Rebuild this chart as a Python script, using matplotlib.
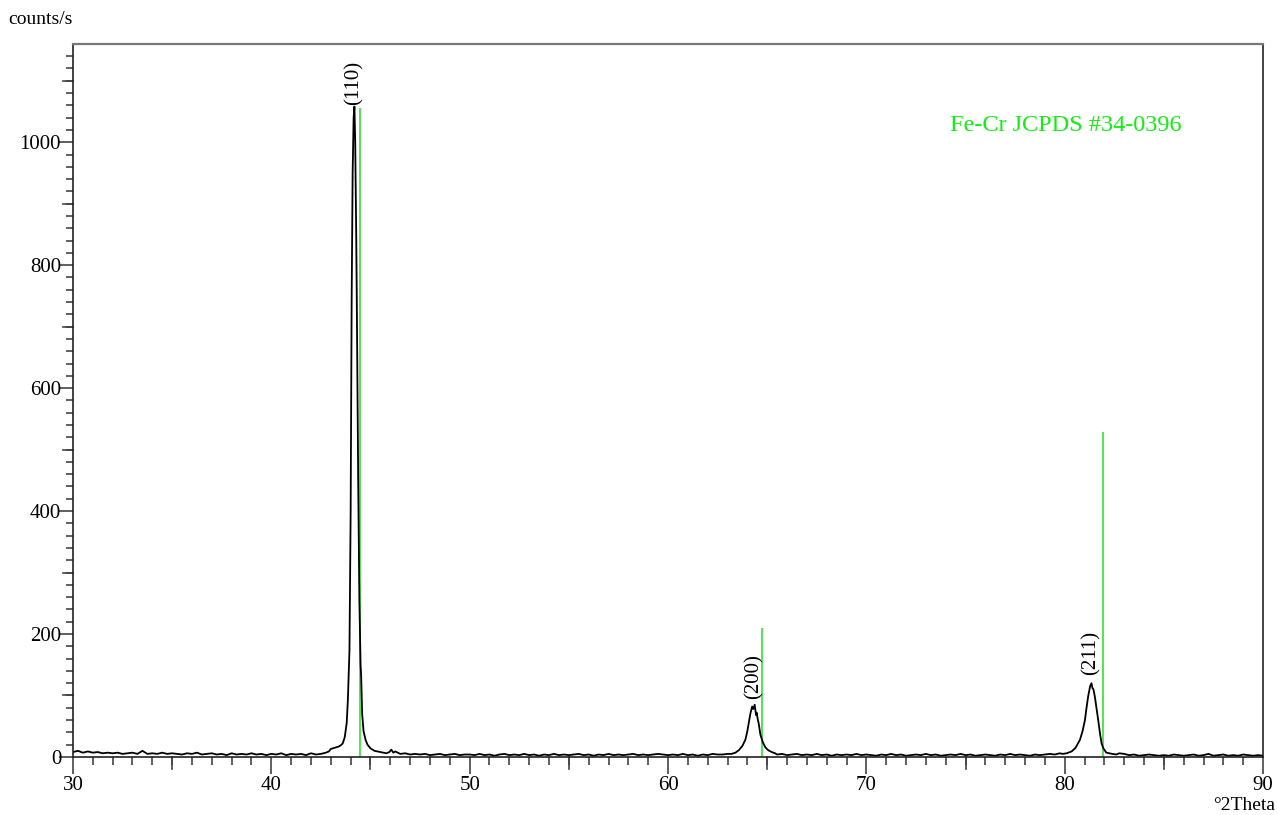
import numpy as np
import matplotlib.pyplot as plt
from matplotlib.ticker import MultipleLocator

# baseline counts, every 0.25 deg from 30 to 90 (peak windows get replaced below)
base_start, base_step = 30.0, 0.25
base_counts = [
    8, 10, 7, 9, 7, 8, 6, 7, 6, 7, 5, 6, 7, 5, 10, 5, 6, 5, 7, 5,
    6, 5, 4, 6, 5, 7, 4, 5, 6, 4, 5, 3, 6, 4, 5, 4, 6, 4, 5, 3,
    5, 4, 6, 3, 5, 4, 5, 3, 6, 4, 5, 7, 9, 12, 15, 18, 20, 20, 20, 20,
    12, 10, 8, 7, 6, 9, 5, 6, 4, 5, 4, 5, 3, 4, 5, 3, 4, 5, 3, 4,
    4, 3, 5, 3, 4, 2, 4, 5, 3, 4, 3, 5, 3, 4, 2, 4, 3, 5, 3, 4,
    3, 4, 5, 3, 4, 2, 4, 3, 5, 3, 4, 3, 4, 5, 3, 4, 3, 4, 5, 4,
    3, 4, 3, 5, 3, 4, 2, 4, 3, 5, 4, 4, 5, 6, 7, 8, 9, 9, 8, 7,
    6, 5, 4, 5, 3, 4, 5, 3, 4, 3, 5, 3, 4, 2, 4, 3, 4, 3, 5, 3,
    4, 3, 2, 4, 3, 5, 3, 4, 2, 3, 4, 3, 5, 3, 4, 2, 3, 4, 3, 5,
    3, 4, 2, 3, 4, 3, 2, 4, 3, 5, 3, 4, 3, 2, 4, 3, 4, 5, 4, 6,
    6, 5, 4, 5, 6, 7, 8, 9, 9, 8, 7, 6, 5, 3, 4, 2, 3, 4, 3, 2,
    3, 2, 4, 3, 2, 3, 4, 2, 3, 5, 2, 3, 4, 2, 3, 2, 4, 3, 2, 3,
    2,
]

# measured peak profiles
p110_x = [42.9, 43.0, 43.2, 43.4, 43.5, 43.6, 43.7, 43.8, 43.86, 43.94, 44.0, 44.05, 44.1,
          44.15, 44.19, 44.23, 44.28, 44.31, 44.38, 44.44, 44.5, 44.53, 44.58,
          44.65, 44.75, 44.85, 45.0, 45.1, 45.2, 45.35, 45.5, 45.65, 45.8, 45.95, 46.05, 46.15]
p110_y = [9, 13, 15, 17, 19, 22, 32, 55, 93, 174, 400, 740, 950,
          1040, 1058, 1000, 850, 740, 450, 255, 150, 132, 70,
          42, 28, 20, 14, 12, 10, 9, 8, 7, 6, 8, 12, 7]

p200_x = [63.0, 63.2, 63.4, 63.57, 63.75, 63.9, 64.0, 64.07, 64.15, 64.24, 64.3, 64.37,
          64.44, 64.47, 64.52, 64.57, 64.66, 64.78, 64.9, 65.05, 65.23, 65.4]
p200_y = [5, 5, 7, 11, 18, 28, 42, 55, 70, 82, 78, 85,
          68, 72, 62, 55, 36, 24, 16, 11, 8, 6]

p211_x = [79.9, 80.1, 80.35, 80.55, 80.77, 80.9, 81.02, 81.1, 81.18, 81.28, 81.35, 81.4,
          81.45, 81.52, 81.6, 81.69, 81.78, 81.86, 81.95, 82.1, 82.25, 82.4, 82.6]
p211_y = [5, 6, 9, 15, 28, 42, 60, 80, 98, 115, 120, 112,
          110, 98, 80, 60, 38, 22, 14, 7, 6, 5, 4]

# JCPDS 34-0396 reference sticks
ref_pos = [44.49, 64.73, 81.94]
ref_int = [1056, 210, 529]

peak_labels = ['(110)', '(200)', '(211)']
label_pos = [44.19, 64.32, 81.33]
label_y = [1060, 95, 133]

base_x = base_start + base_step * np.arange(len(base_counts))
base_y = np.array(base_counts, dtype=float)
seg_x = [p110_x, p200_x, p211_x]
seg_y = [p110_y, p200_y, p211_y]
keep = np.ones(len(base_x), dtype=bool)
for sx in seg_x:
    keep &= ~((base_x >= sx[0]) & (base_x <= sx[-1]))
tt = np.concatenate([base_x[keep]] + [np.array(s) for s in seg_x])
cc = np.concatenate([base_y[keep]] + [np.array(s, dtype=float) for s in seg_y])
order = np.argsort(tt)
tt, cc = tt[order], cc[order]

plt.rcParams['font.family'] = ['Liberation Serif', 'DejaVu Serif']

fig = plt.figure(figsize=(12.78, 8.15), dpi=100)
ax = fig.add_axes([0.0571, 0.0712, 0.9312, 0.8742])

ax.vlines(ref_pos, 0, ref_int, color='#22dd22', lw=1.1, zorder=1)
ax.plot(tt, cc, color='black', lw=1.3, zorder=2)

for lab, xp, yp in zip(peak_labels, label_pos, label_y):
    ax.text(xp, yp, lab, rotation=90, ha='center', va='bottom', fontsize=15)

ax.text(0.737, 0.887, 'Fe-Cr JCPDS #34-0396', transform=ax.transAxes,
        color='#11ee11', fontsize=17.5, ha='left', va='center')

ax.set_xlim(30, 90)
ax.set_ylim(0, 1159)
ax.xaxis.set_major_locator(MultipleLocator(10))
ax.xaxis.set_minor_locator(MultipleLocator(1))
ax.yaxis.set_major_locator(MultipleLocator(200))
ax.yaxis.set_minor_locator(MultipleLocator(20))
ax.tick_params(axis='both', which='major', labelsize=15, color='#444444', width=1.2)
ax.tick_params(axis='x', which='major', length=12, pad=2)
ax.tick_params(axis='y', which='major', length=10, pad=-1.5)
ax.tick_params(axis='both', which='minor', length=5, color='#444444', width=1.2)
ax.tick_params(axis='x', which='minor', length=6)

# longer ticks at x = 35, 45, ... and y = 100, 300, ...
for xv in range(35, 90, 10):
    ax.plot([xv, xv], [0, -0.0168 * 1159], color='#444444', lw=1.2, clip_on=False)
for yv in range(100, 1159, 200):
    ax.plot([30, 30 - 0.0084 * 60], [yv, yv], color='#444444', lw=1.2, clip_on=False)

ax.spines['top'].set_color('#777777')
ax.spines['top'].set_linewidth(1.6)
for s in ['left', 'bottom', 'right']:
    ax.spines[s].set_color('#222222')
    ax.spines[s].set_linewidth(1.2)

fig.text(8 / 1278, 1 - 19 / 815, 'counts/s', fontsize=14, ha='left', va='center')
fig.text(1275 / 1278, 1 - 805 / 815, '°2Theta', fontsize=14, ha='right', va='center')

fig.savefig('out.png', dpi=100)
